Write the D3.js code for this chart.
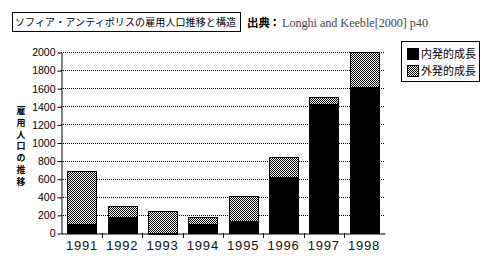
<!DOCTYPE html>
<html>
<head>
<meta charset="UTF-8">
<title>雇用人口推移</title>
<script src="https://cdn.jsdelivr.net/npm/d3@7"></script>
<style>
  body { margin: 0; background: #fff; }
  text { font-family: "Liberation Sans", "DejaVu Sans", sans-serif; }
  .jp { font-family: "Noto Sans CJK JP", sans-serif; }
</style>
</head>
<body>
<svg id="chart"></svg>
<script>
var years = ["1991", "1992", "1993", "1994", "1995", "1996", "1997", "1998"];
var inner = [100, 180, -10, 100, 130, 620, 1420, 1610];   // 内発的成長
var outer = [580, 120, 240, 80, 280, 220, 80, 390];      // 外発的成長
var yTicks = [0, 200, 400, 600, 800, 1000, 1200, 1400, 1600, 1800, 2000];
var legendLabels = ["内発的成長", "外発的成長"];

var w = 488, h = 259;
var svg = d3.select("#chart").attr("width", w).attr("height", h);

var defs = svg.append("defs");
var pat = defs.append("pattern").attr("id", "dots")
    .attr("width", 2).attr("height", 2).attr("patternUnits", "userSpaceOnUse");
pat.append("rect").attr("width", 2).attr("height", 2).attr("fill", "#fff");
pat.append("rect").attr("x", 0).attr("y", 0).attr("width", 1).attr("height", 1).attr("fill", "#000");
pat.append("rect").attr("x", 1).attr("y", 1).attr("width", 1).attr("height", 1).attr("fill", "#000");

var rows = years.map(function (y, i) { return {year: y, inner: inner[i], outer: outer[i]}; });

var x = d3.scaleBand().domain(years).range([61, 385]).paddingInner(0.28).paddingOuter(0.16);
var y = d3.scaleLinear().domain([0, 2000]).range([233, 52]);

// gridlines
svg.append("g").selectAll("line").data(yTicks.filter(function (d) { return d > 0; }))
    .enter().append("line")
    .attr("x1", 61).attr("x2", 385)
    .attr("y1", function (d) { return Math.round(y(d)) + 0.5; })
    .attr("y2", function (d) { return Math.round(y(d)) + 0.5; })
    .attr("stroke", "#000").attr("stroke-dasharray", "1,1");

// stacked bars
var series = d3.stack().keys(["inner", "outer"]).offset(d3.stackOffsetDiverging)(rows);
var fills = {inner: "#000", outer: "url(#dots)"};
svg.append("g").selectAll("g").data(series).enter().append("g")
    .attr("fill", function (s) { return fills[s.key]; })
    .selectAll("rect").data(function (s) { return s; }).enter().append("rect")
    .attr("x", function (d) { return Math.round(x(d.data.year)) + 0.5; })
    .attr("width", Math.round(x.bandwidth()))
    .attr("y", function (d) { return Math.round(y(Math.max(d[0], d[1]))) + 0.5; })
    .attr("height", function (d) { return Math.abs(Math.round(y(d[0])) - Math.round(y(d[1]))); })
    .attr("stroke", "#000").attr("stroke-width", 1);

// y axis
var yAxis = svg.append("g").attr("transform", "translate(61.5,0.5)")
    .call(d3.axisLeft(y).tickValues(yTicks).tickFormat(d3.format("d"))
        .tickSize(4).tickPadding(2).tickSizeOuter(0));
yAxis.selectAll("text").attr("font-size", 10.5).attr("fill", "#000");
yAxis.selectAll("line,path").attr("stroke", "#000");

// x axis
var xAxis = svg.append("g").attr("transform", "translate(0,233.5)")
    .call(d3.axisBottom(x).tickSize(0).tickPadding(7).tickSizeOuter(0));
xAxis.select("path").attr("stroke", "#000");
xAxis.selectAll("text").attr("font-size", 13).attr("fill", "#111").attr("letter-spacing", "0.8");
var step = x.step();
svg.append("g").selectAll("line").data(years.slice(1)).enter().append("line")
    .attr("x1", function (d) { return Math.round(x(d) - step * x.paddingInner() / 2) + 0.5; })
    .attr("x2", function (d) { return Math.round(x(d) - step * x.paddingInner() / 2) + 0.5; })
    .attr("y1", 233).attr("y2", 238).attr("stroke", "#000");

// y title, vertical
var yTitle = "雇用人口の推移".split("");
svg.append("g").selectAll("text").data(yTitle).enter().append("text")
    .attr("class", "jp")
    .attr("x", 21).attr("y", function (d, i) { return 114 + i * 11.8; })
    .attr("text-anchor", "middle").attr("font-size", 9).attr("font-weight", "bold")
    .text(function (d) { return d; });

// title box
svg.append("rect").attr("x", 12.5).attr("y", 12.5).attr("width", 228).attr("height", 19)
    .attr("fill", "none").attr("stroke", "#000");
svg.append("text").attr("class", "jp").attr("x", 15).attr("y", 26)
    .attr("font-size", 10).attr("textLength", 221)
    .text("ソフィア・アンティポリスの雇用人口推移と構造");

// source
svg.append("text").attr("class", "jp").attr("x", 247).attr("y", 27)
    .attr("font-size", 11.5).attr("font-weight", "bold").text("出典");
svg.append("text").attr("class", "jp").attr("x", 269).attr("y", 27)
    .attr("font-size", 11.5).attr("font-weight", "bold").text("：");
svg.append("text").attr("x", 282).attr("y", 27).attr("font-size", 12.2)
    .attr("fill", "#444").style("font-family", "'Liberation Serif', serif")
    .attr("textLength", 146)
    .text("Longhi and Keeble[2000] p40");

// legend
svg.append("rect").attr("x", 401.5).attr("y", 41.5).attr("width", 78).attr("height", 40)
    .attr("fill", "#fff").attr("stroke", "#000");
var lg = svg.append("g").selectAll("g").data(legendLabels).enter().append("g")
    .attr("transform", function (d, i) { return "translate(407," + (48 + i * 17) + ")"; });
lg.append("rect").attr("x", 0.5).attr("y", 0.5).attr("width", 11).attr("height", 11)
    .attr("fill", function (d, i) { return i === 0 ? "#000" : "url(#dots)"; })
    .attr("stroke", "#000");
lg.append("text").attr("class", "jp").attr("x", 14).attr("y", 10)
    .attr("font-size", 11).text(function (d) { return d; });
</script>
</body>
</html>
